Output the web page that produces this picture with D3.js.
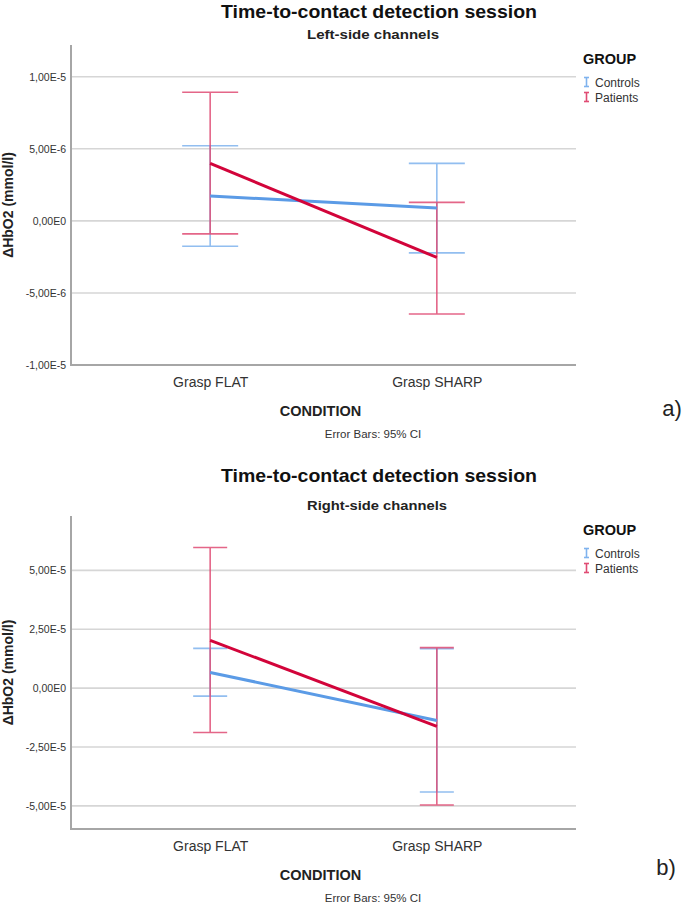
<!DOCTYPE html>
<html>
<head>
<meta charset="utf-8">
<script src="https://cdn.jsdelivr.net/npm/d3@7/dist/d3.min.js"></script>
<style>
  html, body { margin: 0; padding: 0; background: #fff; }
  svg { display: block; font-family: "Liberation Sans", Arial, sans-serif; }
</style>
</head>
<body>
<svg id="chart" width="685" height="908"></svg>
<script>
// ---------- data ----------
const categories = ["Grasp FLAT", "Grasp SHARP"];
const groups = ["Controls", "Patients"];

// Panel a) Left-side channels
const leftControlsMean  = [1.72e-6, 0.90e-6];
const leftControlsLow   = [-1.76e-6, -2.22e-6];
const leftControlsHigh  = [5.21e-6, 3.99e-6];
const leftPatientsMean  = [3.99e-6, -2.54e-6];
const leftPatientsLow   = [-0.90e-6, -6.46e-6];
const leftPatientsHigh  = [8.92e-6, 1.28e-6];
const leftTicks = [-1e-5, -5e-6, 0, 5e-6, 1e-5];
const leftTickLabels = ["-1,00E-5", "-5,00E-6", "0,00E0", "5,00E-6", "1,00E-5"];
const leftDomain = [-1e-5, 1.22e-5];

// Panel b) Right-side channels
const rightControlsMean = [0.668e-5, -1.37e-5];
const rightControlsLow  = [-0.34e-5, -4.41e-5];
const rightControlsHigh = [1.69e-5, 1.68e-5];
const rightPatientsMean = [2.03e-5, -1.62e-5];
const rightPatientsLow  = [-1.885e-5, -4.96e-5];
const rightPatientsHigh = [5.97e-5, 1.72e-5];
const rightTicks = [-5e-5, -2.5e-5, 0, 2.5e-5, 5e-5];
const rightTickLabels = ["-5,00E-5", "-2,50E-5", "0,00E0", "2,50E-5", "5,00E-5"];
const rightDomain = [-5.98e-5, 7.31e-5];

// ---------- styles ----------
const lineColor = { Controls: "#5b9be6", Patients: "#d2043a" };
const barColor  = { Controls: "#7fb3ee", Patients: "#e04c74" };

const svg = d3.select("#chart");

function panel(cfg) {
  const g = svg.append("g");
  const x = d3.scalePoint().domain(categories).range([cfg.left, cfg.right]).padding(0.614);
  const y = d3.scaleLinear().domain(cfg.domain).range([cfg.bottom, cfg.top]);

  // gridlines
  g.append("g").selectAll("line").data(cfg.ticks).join("line")
    .attr("x1", cfg.left).attr("x2", cfg.right)
    .attr("y1", d => y(d)).attr("y2", d => y(d))
    .attr("stroke", "#d6d6d6").attr("stroke-width", 1.6);

  // y axis with labels
  const yAxis = d3.axisLeft(y).tickValues(cfg.ticks)
    .tickFormat((d, i) => cfg.tickLabels[i]).tickSize(0).tickPadding(5);
  const ya = g.append("g").attr("transform", `translate(${cfg.left},0)`).call(yAxis);
  ya.select(".domain").remove();
  ya.selectAll("text").attr("font-size", 10.5).attr("fill", "#333")
    .attr("font-family", "'Liberation Sans', Arial, sans-serif");

  // axis lines
  g.append("line").attr("x1", cfg.left).attr("x2", cfg.left)
    .attr("y1", cfg.top).attr("y2", cfg.bottom + 1)
    .attr("stroke", "#a6a6a6").attr("stroke-width", 2);
  g.append("line").attr("x1", cfg.left).attr("x2", cfg.right)
    .attr("y1", cfg.bottom).attr("y2", cfg.bottom)
    .attr("stroke", "#a6a6a6").attr("stroke-width", 2);

  // x axis labels
  const xAxis = d3.axisBottom(x).tickSize(0).tickPadding(12);
  const xa = g.append("g").attr("transform", `translate(0,${cfg.bottom})`).call(xAxis);
  xa.select(".domain").remove();
  xa.selectAll("text").attr("font-size", 14).attr("fill", "#333")
    .attr("font-family", "'Liberation Sans', Arial, sans-serif");

  // error bars
  cfg.series.forEach(s => {
    const eb = g.append("g").attr("opacity", 0.85);
    categories.forEach((c, i) => {
      const cx = x(c);
      eb.append("line").attr("x1", cx).attr("x2", cx)
        .attr("y1", y(s.low[i])).attr("y2", y(s.high[i]))
        .attr("stroke", barColor[s.name]).attr("stroke-width", 1.6);
      [s.low[i], s.high[i]].forEach(v => {
        eb.append("line").attr("x1", cx - cfg.cap).attr("x2", cx + cfg.cap)
          .attr("y1", y(v)).attr("y2", y(v))
          .attr("stroke", barColor[s.name]).attr("stroke-width", 1.6);
      });
    });
  });

  // mean lines
  const line = d3.line().x((d, i) => x(categories[i])).y(d => y(d));
  cfg.series.forEach(s => {
    g.append("path").datum(s.mean).attr("d", line)
      .attr("fill", "none").attr("stroke", lineColor[s.name])
      .attr("stroke-width", 3);
  });

  // titles
  g.append("text").attr("x", 379).attr("y", cfg.titleY)
    .attr("text-anchor", "middle").attr("font-size", 18.5).attr("font-weight", "bold")
    .attr("fill", "#111")
    .attr("textLength", 316).attr("lengthAdjust", "spacingAndGlyphs")
    .text("Time-to-contact detection session");
  g.append("text").attr("x", cfg.subX).attr("y", cfg.top - 6.5)
    .attr("text-anchor", "middle").attr("font-size", 12.5).attr("font-weight", "bold")
    .attr("fill", "#222")
    .attr("textLength", cfg.subW).attr("lengthAdjust", "spacingAndGlyphs")
    .text(cfg.subtitle);

  // y title
  const ymid = (cfg.top + cfg.bottom) / 2;
  g.append("text").attr("transform", `translate(13,${ymid}) rotate(-90)`)
    .attr("text-anchor", "middle").attr("font-size", 14).attr("font-weight", "bold")
    .attr("fill", "#222").text("ΔHbO2 (mmol/l)");

  // x title & note
  g.append("text").attr("x", (cfg.left + cfg.right) / 2 - 3).attr("y", cfg.bottom + 50.5)
    .attr("text-anchor", "middle").attr("font-size", 14.5).attr("font-weight", "bold")
    .attr("fill", "#222").text("CONDITION");
  g.append("text").attr("x", 373).attr("y", cfg.bottom + 72.5)
    .attr("text-anchor", "middle").attr("font-size", 11.5)
    .attr("fill", "#333").text("Error Bars: 95% CI");

  // panel letter
  g.append("text").attr("x", cfg.letterX).attr("y", cfg.letterY)
    .attr("text-anchor", "middle").attr("font-size", 22)
    .attr("fill", "#222").text(cfg.letter);

  // legend
  const lg = g.append("g");
  lg.append("text").attr("x", 583).attr("y", cfg.top + 19)
    .attr("font-size", 14.5).attr("font-weight", "bold").attr("fill", "#111").text("GROUP");
  groups.forEach((name, i) => {
    const by = cfg.top + 41.5 + i * 15;
    const ix = 586.5;
    const col = barColor[name];
    lg.append("line").attr("x1", ix).attr("x2", ix).attr("y1", by - 9).attr("y2", by)
      .attr("stroke", col).attr("stroke-width", 1.6);
    lg.append("line").attr("x1", ix - 2.5).attr("x2", ix + 2.5).attr("y1", by - 9).attr("y2", by - 9)
      .attr("stroke", col).attr("stroke-width", 1.6);
    lg.append("line").attr("x1", ix - 2.5).attr("x2", ix + 2.5).attr("y1", by).attr("y2", by)
      .attr("stroke", col).attr("stroke-width", 1.6);
    lg.append("text").attr("x", 595).attr("y", by + 0.5)
      .attr("font-size", 12).attr("fill", "#333").text(name);
  });
}

panel({
  top: 45, bottom: 365, left: 71, right: 576, titleY: 17.5,
  domain: leftDomain, ticks: leftTicks, tickLabels: leftTickLabels,
  cap: 28, subtitle: "Left-side channels", subX: 373, subW: 132,
  letter: "a)", letterX: 672, letterY: 416,
  series: [
    { name: "Controls", mean: leftControlsMean, low: leftControlsLow, high: leftControlsHigh },
    { name: "Patients", mean: leftPatientsMean, low: leftPatientsLow, high: leftPatientsHigh }
  ]
});

panel({
  top: 516, bottom: 829, left: 71, right: 576, titleY: 482,
  domain: rightDomain, ticks: rightTicks, tickLabels: rightTickLabels,
  cap: 17, subtitle: "Right-side channels", subX: 377, subW: 140,
  letter: "b)", letterX: 666, letterY: 875,
  series: [
    { name: "Controls", mean: rightControlsMean, low: rightControlsLow, high: rightControlsHigh },
    { name: "Patients", mean: rightPatientsMean, low: rightPatientsLow, high: rightPatientsHigh }
  ]
});
</script>
</body>
</html>
